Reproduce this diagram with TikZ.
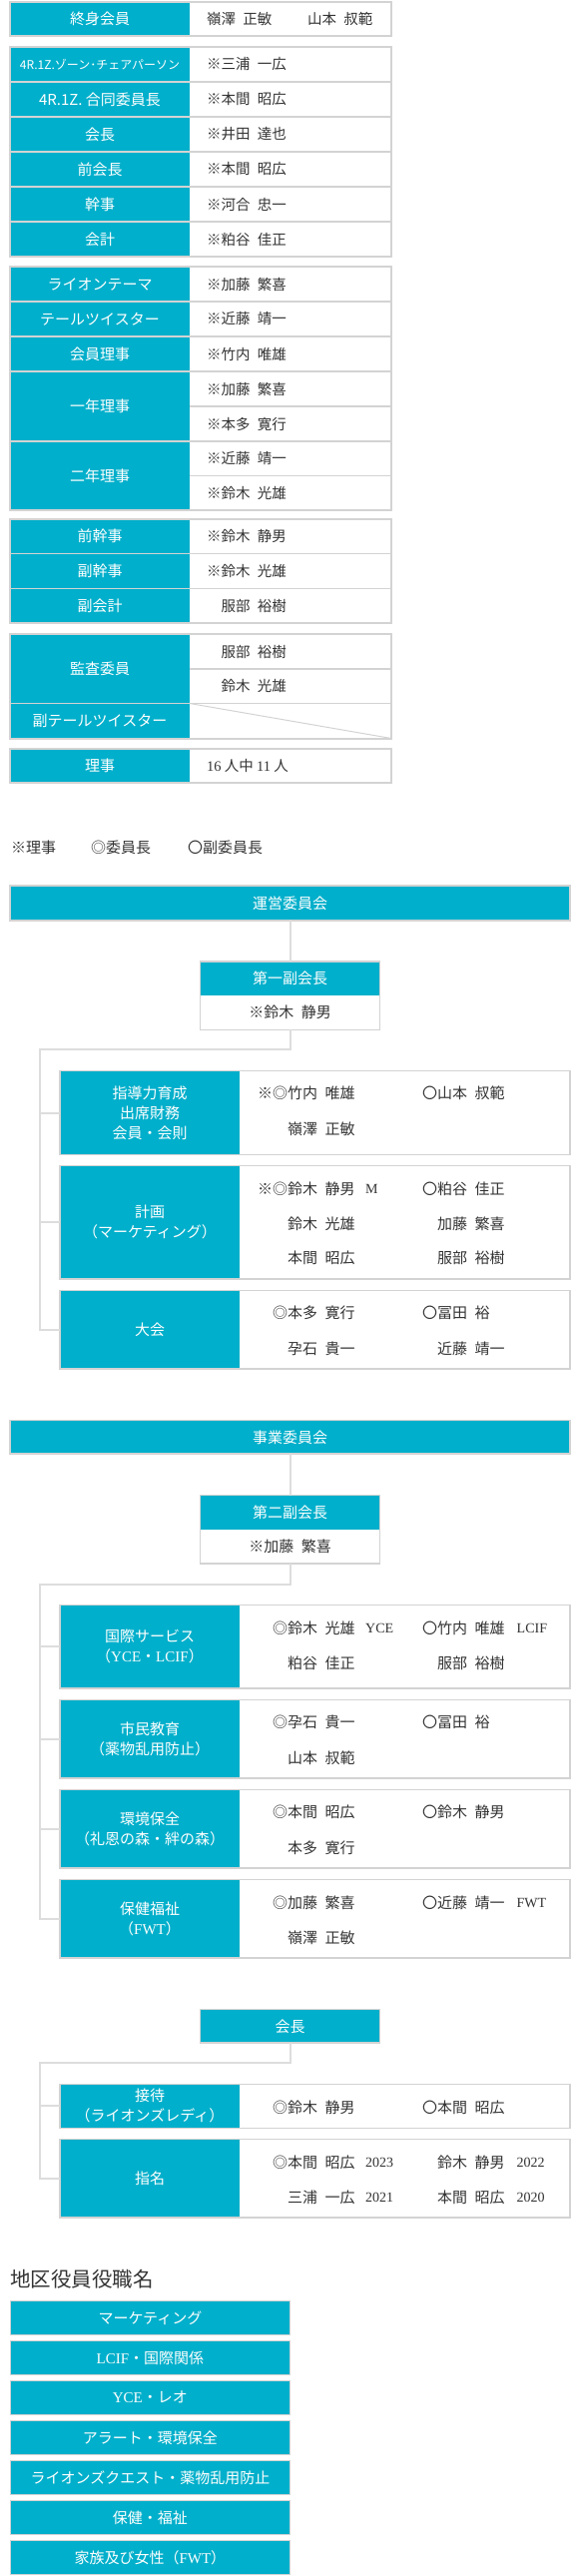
\documentclass[tikz,border=0pt]{standalone}
\usepackage{fontspec}
\setmainfont{Noto Sans CJK JP}
\newfontfamily\lat{Liberation Serif}
\definecolor{ac}{HTML}{00AFCB}
\definecolor{tx}{HTML}{333333}
\definecolor{bd}{HTML}{D3D3D3}
\definecolor{ln}{HTML}{DDDDDD}
\newcommand\nsep{\hspace{0.5em}}
\tikzset{
  tl/.style={text=white, inner sep=0pt, align=center, font=\fontsize{15}{20}\selectfont},
  tnm/.style={text=tx, inner sep=0pt, anchor=west, font=\fontsize{14.5}{17}\selectfont},
  nm/.style={text=tx, inner sep=0pt, anchor=west, font=\fontsize{15}{18}\selectfont},
  sfx/.style={text=tx, inner sep=0pt, anchor=west, font=\lat\fontsize{14}{16}\selectfont},
  labcell/.style={fill=ac, text=white, inner sep=0pt, outer sep=0pt, align=center, anchor=north west, minimum width=180pt, font=\fontsize{15}{20}\selectfont},
  valcell/.style={fill=white, inner sep=0pt, outer sep=0pt, anchor=north west, minimum width=331pt},
  barbox/.style={fill=ac, draw=bd, line width=1.3pt, text=white, inner sep=0pt, outer sep=0pt, anchor=north west, font=\fontsize{15}{18}\selectfont},
  namebox/.style={fill=white, text=tx, inner sep=0pt, outer sep=0pt, anchor=north west, minimum width=180pt, minimum height=34.3pt, font=\fontsize{15}{18}\selectfont},
  conn/.style={draw=ln, line width=2pt},
  frame/.style={draw=bd, line width=1.3pt},
  tfr/.style={draw=bd, line width=2pt},
  sepl/.style={draw=bd, line width=1.5pt},
}
\begin{document}
\begin{tikzpicture}[x=1pt,y=-1pt]
\useasboundingbox (0,0) rectangle (580,2580);

% ---------------- top table ----------------
% group 1
\fill[ac] (10,2) rectangle (190,36);
\node[tl] (t1) at (100,19) {終身会員};
\node[tnm] (t1a) at (207,19) {嶺澤\nsep 正敏};
\node[tnm] (t1b) at (308,19) {山本\nsep 叔範};
\draw[tfr] (10,2) rectangle (392,36);

% group 2
\fill[ac] (10,47) rectangle (190,257);
\foreach \yy in {82,117,152,187,222} \draw[sepl] (10,\yy) -- (392,\yy);
\node[tl, font=\fontsize{12}{14}\selectfont] (t2) at (100,64.5) {4R.1Z.ゾーン･チェアパーソン};
\node[tl] (t3) at (100,99.5) {4R.1Z. 合同委員長};
\node[tl] (t4) at (100,134.5) {会長};
\node[tl] (t5) at (100,169.5) {前会長};
\node[tl] (t6) at (100,204.5) {幹事};
\node[tl] (t7) at (100,239.5) {会計};
\node[tnm] (v2) at (207,64.5) {※三浦\nsep 一広};
\node[tnm] (v3) at (207,99.5) {※本間\nsep 昭広};
\node[tnm] (v4) at (207,134.5) {※井田\nsep 達也};
\node[tnm] (v5) at (207,169.5) {※本間\nsep 昭広};
\node[tnm] (v6) at (207,204.5) {※河合\nsep 忠一};
\node[tnm] (v7) at (207,239.5) {※粕谷\nsep 佳正};
\draw[tfr] (10,47) rectangle (392,257);

% group 3
\fill[ac] (10,267) rectangle (190,511);
\foreach \yy in {302,337,372,442} \draw[sepl] (10,\yy) -- (392,\yy);
\foreach \yy in {407,476.5} \draw[sepl] (190,\yy) -- (392,\yy);
\node[tl] (t8) at (100,284.5) {ライオンテーマ};
\node[tl] (t9) at (100,319.5) {テールツイスター};
\node[tl] (t10) at (100,354.5) {会員理事};
\node[tl] (t11) at (100,407) {一年理事};
\node[tl] (t12) at (100,476.5) {二年理事};
\node[tnm] (v8) at (207,284.5) {※加藤\nsep 繁喜};
\node[tnm] (v9) at (207,319.5) {※近藤\nsep 靖一};
\node[tnm] (v10) at (207,354.5) {※竹内\nsep 唯雄};
\node[tnm] (v11) at (207,389.5) {※加藤\nsep 繁喜};
\node[tnm] (v12) at (207,424.5) {※本多\nsep 寛行};
\node[tnm] (v13) at (207,459.5) {※近藤\nsep 靖一};
\node[tnm] (v14) at (207,494) {※鈴木\nsep 光雄};
\draw[tfr] (10,267) rectangle (392,511);

% group 4
\fill[ac] (10,520) rectangle (190,624);
\foreach \yy in {554.5,589.5} \draw[sepl] (10,\yy) -- (392,\yy);
\node[tl] (t13) at (100,537.25) {前幹事};
\node[tl] (t14) at (100,572) {副幹事};
\node[tl] (t15) at (100,606.75) {副会計};
\node[tnm] (v15) at (207,537.25) {※鈴木\nsep 静男};
\node[tnm] (v16) at (207,572) {※鈴木\nsep 光雄};
\node[tnm] (v17) at (221.5,606.75) {服部\nsep 裕樹};
\draw[tfr] (10,520) rectangle (392,624);

% group 5
\fill[ac] (10,635) rectangle (190,739.5);
\draw[sepl] (10,704.5) -- (392,704.5);
\draw[sepl] (190,670) -- (392,670);
\draw[draw=bd, line width=1pt] (190,704.5) -- (392,739.5);
\node[tl] (t16) at (100,669.75) {監査委員};
\node[tl] (t17) at (100,722) {副テールツイスター};
\node[tnm] (v18) at (221.5,652.5) {服部\nsep 裕樹};
\node[tnm] (v19) at (221.5,687.25) {鈴木\nsep 光雄};
\draw[tfr] (10,635) rectangle (392,739.5);

% group 6
\fill[ac] (10,750) rectangle (190,784);
\node[tl] (t18) at (100,767) {理事};
\node[tnm] (v20) at (207,767) {{\lat 16} 人中 {\lat 11} 人};
\draw[tfr] (10,750) rectangle (392,784);

% legend
\node[nm] (lg1) at (11,849) {※理事};
\node[nm] (lg2) at (91,849) {◎委員長};
\node[nm] (lg3) at (188,849) {〇副委員長};

% ---------------- 運営委員会 ----------------
\node[barbox, minimum width=561pt, minimum height=35pt] (unei) at (10,887) {運営委員会};
\node[labcell, minimum height=34pt] (fvp) at (200.5,963) {第一副会長};
\node[namebox] (fvpn) at (200.5,997) {※鈴木\nsep 静男};
\draw[frame] (fvp.north west) rectangle (fvpn.south east);
\draw[conn] (unei.south) -- (fvp.north);

% box A
\node[labcell, minimum height=83.6pt] (Al) at (60,1072.7) {指導力育成\\出席財務\\会員・会則};
\node[valcell, minimum height=83.6pt] (Av) at (240,1072.7) {};
\draw[frame] (Al.north west) rectangle (Av.south east);
\node[nm] (a1) at (258,1095) {※◎竹内\nsep 唯雄};
\node[nm] (a2) at (423,1095) {〇山本\nsep 叔範};
\node[nm] (a3) at (288,1130.7) {嶺澤\nsep 正敏};

% box B
\node[labcell, minimum height=113.3pt] (Bl) at (60,1167.7) {計画\\（マーケティング）};
\node[valcell, minimum height=113.3pt] (Bv) at (240,1167.7) {};
\draw[frame] (Bl.north west) rectangle (Bv.south east);
\node[nm] (b1) at (258,1191) {※◎鈴木\nsep 静男};
\node[sfx] (b1s) at (366,1191) {M};
\node[nm] (b2) at (423,1191) {〇粕谷\nsep 佳正};
\node[nm] (b3) at (288,1225.7) {鈴木\nsep 光雄};
\node[nm] (b4) at (438,1225.7) {加藤\nsep 繁喜};
\node[nm] (b5) at (288,1260) {本間\nsep 昭広};
\node[nm] (b6) at (438,1260) {服部\nsep 裕樹};

% box C
\node[labcell, minimum height=78.3pt] (Cl) at (60,1292.7) {大会};
\node[valcell, minimum height=78.3pt] (Cv) at (240,1292.7) {};
\draw[frame] (Cl.north west) rectangle (Cv.south east);
\node[nm] (c1) at (273,1315) {◎本多\nsep 寛行};
\node[nm] (c2) at (423,1315) {〇冨田\nsep 裕};
\node[nm] (c3) at (288,1350.7) {孕石\nsep 貴一};
\node[nm] (c4) at (438,1350.7) {近藤\nsep 靖一};

% connectors 運営
\coordinate (tu) at (40,1051);
\draw[conn] (fvpn.south) |- (tu) -- (tu |- Cl.west) -- (Cl.west);
\draw[conn] (tu |- Al.west) -- (Al.west);
\draw[conn] (tu |- Bl.west) -- (Bl.west);

% ---------------- 事業委員会 ----------------
\node[barbox, minimum width=561pt, minimum height=33.3pt] (jigyo) at (10,1422.7) {事業委員会};
\node[labcell, minimum height=34pt] (svp) at (200.5,1497.7) {第二副会長};
\node[namebox] (svpn) at (200.5,1531.7) {※加藤\nsep 繁喜};
\draw[frame] (svp.north west) rectangle (svpn.south east);
\draw[conn] (jigyo.south) -- (svp.north);

% box D
\node[labcell, minimum height=83.3pt] (Dl) at (60,1607.7) {国際サービス\\（{\lat YCE}・{\lat LCIF}）};
\node[valcell, minimum height=83.3pt] (Dv) at (240,1607.7) {};
\draw[frame] (Dl.north west) rectangle (Dv.south east);
\node[nm] (d1) at (273,1630.7) {◎鈴木\nsep 光雄};
\node[sfx] (d1s) at (366,1630.7) {YCE};
\node[nm] (d2) at (423,1630.7) {〇竹内\nsep 唯雄};
\node[sfx] (d2s) at (517.5,1630.7) {LCIF};
\node[nm] (d3) at (288,1666) {粕谷\nsep 佳正};
\node[nm] (d4) at (438,1666) {服部\nsep 裕樹};

% box E
\node[labcell, minimum height=78.3pt] (El) at (60,1702.7) {市民教育\\（薬物乱用防止）};
\node[valcell, minimum height=78.3pt] (Ev) at (240,1702.7) {};
\draw[frame] (El.north west) rectangle (Ev.south east);
\node[nm] (e1) at (273,1725) {◎孕石\nsep 貴一};
\node[nm] (e2) at (423,1725) {〇冨田\nsep 裕};
\node[nm] (e3) at (288,1760.7) {山本\nsep 叔範};

% box F
\node[labcell, minimum height=78.3pt] (Fl) at (60,1792.7) {環境保全\\（礼恩の森・絆の森）};
\node[valcell, minimum height=78.3pt] (Fv) at (240,1792.7) {};
\draw[frame] (Fl.north west) rectangle (Fv.south east);
\node[nm] (f1) at (273,1815) {◎本間\nsep 昭広};
\node[nm] (f2) at (423,1815) {〇鈴木\nsep 静男};
\node[nm] (f3) at (288,1850.7) {本多\nsep 寛行};

% box G
\node[labcell, minimum height=78.3pt] (Gl) at (60,1882.7) {保健福祉\\（{\lat FWT}）};
\node[valcell, minimum height=78.3pt] (Gv) at (240,1882.7) {};
\draw[frame] (Gl.north west) rectangle (Gv.south east);
\node[nm] (g1) at (273,1906) {◎加藤\nsep 繁喜};
\node[nm] (g2) at (423,1906) {〇近藤\nsep 靖一};
\node[sfx] (g2s) at (517.5,1906) {FWT};
\node[nm] (g3) at (288,1940.7) {嶺澤\nsep 正敏};

% connectors 事業
\coordinate (tj) at (40,1586.7);
\draw[conn] (svpn.south) |- (tj) -- (tj |- Gl.west) -- (Gl.west);
\draw[conn] (tj |- Dl.west) -- (Dl.west);
\draw[conn] (tj |- El.west) -- (El.west);
\draw[conn] (tj |- Fl.west) -- (Fl.west);

% ---------------- 会長 ----------------
\node[barbox, minimum width=180pt, minimum height=33.3pt] (pres) at (200.5,2012.7) {会長};

% box H
\node[labcell, minimum height=44pt] (Hl) at (60,2087.3) {接待\\（ライオンズレディ）};
\node[valcell, minimum height=44pt] (Hv) at (240,2087.3) {};
\draw[frame] (Hl.north west) rectangle (Hv.south east);
\node[nm] (h1) at (273,2110.7) {◎鈴木\nsep 静男};
\node[nm] (h2) at (423,2110.7) {〇本間\nsep 昭広};

% box I
\node[labcell, minimum height=78.3pt] (Il) at (60,2142.7) {指名};
\node[valcell, minimum height=78.3pt] (Iv) at (240,2142.7) {};
\draw[frame] (Il.north west) rectangle (Iv.south east);
\node[nm] (i1) at (273,2166) {◎本間\nsep 昭広};
\node[sfx] (i1s) at (366,2166) {2023};
\node[nm] (i2) at (438,2166) {鈴木\nsep 静男};
\node[sfx] (i2s) at (517.5,2166) {2022};
\node[nm] (i3) at (288,2201) {三浦\nsep 一広};
\node[sfx] (i3s) at (366,2201) {2021};
\node[nm] (i4) at (438,2201) {本間\nsep 昭広};
\node[sfx] (i4s) at (517.5,2201) {2020};

% connectors 会長
\coordinate (tp) at (40,2066);
\draw[conn] (pres.south) |- (tp) -- (tp |- Il.west) -- (Il.west);
\draw[conn] (tp |- Hl.west) -- (Hl.west);

% ---------------- 地区役員役職名 ----------------
\node[text=tx, inner sep=0pt, anchor=west, font=\fontsize{20.5}{24}\selectfont] (hd) at (10,2283) {地区役員役職名};
\node[barbox, minimum width=280pt, minimum height=34pt] (k1) at (10.4,2304.3) {マーケティング};
\node[barbox, minimum width=280pt, minimum height=34pt] (k2) at (10.4,2344.3) {{\lat LCIF}・国際関係};
\node[barbox, minimum width=280pt, minimum height=34pt] (k3) at (10.4,2384.3) {{\lat YCE}・レオ};
\node[barbox, minimum width=280pt, minimum height=34pt] (k4) at (10.4,2424.3) {アラート・環境保全};
\node[barbox, minimum width=280pt, minimum height=34pt] (k5) at (10.4,2464.3) {ライオンズクエスト・薬物乱用防止};
\node[barbox, minimum width=280pt, minimum height=34pt] (k6) at (10.4,2504.3) {保健・福祉};
\node[barbox, minimum width=280pt, minimum height=34pt] (k7) at (10.4,2544.3) {家族及び女性（{\lat FWT}）};
\end{tikzpicture}
\end{document}
